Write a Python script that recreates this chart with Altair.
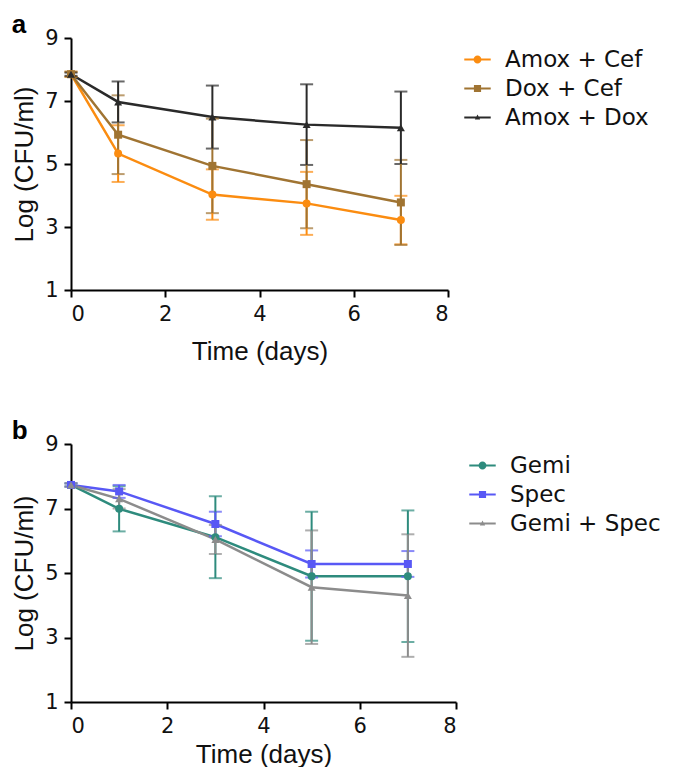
import altair as alt
import pandas as pd

times = [0, 1, 3, 5, 7]

# Panel a
a_series = ["Amox + Cef", "Dox + Cef", "Amox + Dox"]
a_mean = {
    "Amox + Cef": [7.85, 5.33, 4.03, 3.75, 3.22],
    "Dox + Cef": [7.85, 5.93, 4.94, 4.36, 3.78],
    "Amox + Dox": [7.85, 6.97, 6.49, 6.25, 6.15],
}
a_err = {
    "Amox + Cef": [0.08, 0.90, 0.80, 1.00, 0.77],
    "Dox + Cef": [0.08, 1.25, 1.50, 1.40, 1.35],
    "Amox + Dox": [0.05, 0.65, 1.00, 1.28, 1.15],
}
a_colors = ["#fb8c10", "#a07432", "#2a2a2a"]

# Panel b
b_series = ["Gemi", "Spec", "Gemi + Spec"]
b_mean = {
    "Gemi": [7.73, 6.99, 6.11, 4.90, 4.90],
    "Spec": [7.73, 7.53, 6.52, 5.28, 5.28],
    "Gemi + Spec": [7.73, 7.30, 6.04, 4.56, 4.30],
}
b_err = {
    "Gemi": [0.05, 0.70, 1.27, 2.00, 2.04],
    "Spec": [0.05, 0.20, 0.38, 0.42, 0.40],
    "Gemi + Spec": [0.05, 0.30, 0.45, 1.76, 1.90],
}
b_colors = ["#2e8b7d", "#5858f5", "#8c8c8c"]

# legend symbol paths: short line + marker
LINE = "M-1,-0.07L1,-0.07L1,0.07L-1,0.07Z"
CIRC = "M0.3,0A0.3,0.3 0 1,1 -0.3,0A0.3,0.3 0 1,1 0.3,0Z"
SQ = "M-0.27,-0.27L0.27,-0.27L0.27,0.27L-0.27,0.27Z"
TRI = "M0,-0.22L0.2,0.16L-0.2,0.16Z"
legend_paths = [LINE + CIRC, LINE + SQ, LINE + TRI]
shapes = ["circle", "square", "triangle-up"]

FONT = "Liberation Sans"
WFONT = "DejaVu Sans"


def make_df(series, mean, err):
    rows = []
    for s in series:
        for t, m, e in zip(times, mean[s], err[s]):
            rows.append({"t": t, "v": m, "lo": m - e, "hi": m + e, "s": s})
    return pd.DataFrame(rows)


def panel(series, mean, err, colors, label, w, h, lx, ly, xtpad):
    df = make_df(series, mean, err)
    base = alt.Chart(df)
    cscale = alt.Scale(domain=series, range=colors)
    x = alt.X("t:Q", scale=alt.Scale(domain=[0, 8], nice=False),
              axis=alt.Axis(values=[0, 2, 4, 6, 8], title="Time (days)",
                            titlePadding=xtpad))
    y = alt.Y("v:Q", scale=alt.Scale(domain=[1, 9], nice=False),
              axis=alt.Axis(values=[1, 3, 5, 7, 9], title="Log (CFU/ml)",
                            titlePadding=7))
    err_l = base.mark_errorbar(ticks=True, size=13, thickness=2).encode(
        x=alt.X("t:Q"),
        y=alt.Y("lo:Q", title="Log (CFU/ml)"),
        y2="hi:Q",
        color=alt.Color("s:N", scale=cscale, legend=None),
    )
    lines = base.mark_line(strokeWidth=2.5).encode(
        x=x, y=y,
        color=alt.Color("s:N", scale=cscale, legend=None),
    )
    pts = base.mark_point(filled=True, size=64, opacity=1).encode(
        x=x, y=y,
        color=alt.Color("s:N", scale=cscale, legend=None),
        shape=alt.Shape("s:N", scale=alt.Scale(domain=series, range=shapes), legend=None),
    )
    lg = alt.Legend(
        title=None, orient="none", legendX=lx, legendY=ly,
        symbolSize=700, symbolStrokeWidth=0, symbolOpacity=1,
        labelFontSize=23, labelFont=WFONT, labelColor="#111",
        rowPadding=3, labelOffset=14,
    )
    leg = base.transform_filter("false").mark_point(filled=True, opacity=1).encode(
        x=x, y=y,
        color=alt.Color("s:N", scale=alt.Scale(domain=series, range=colors), legend=lg),
        shape=alt.Shape("s:N", scale=alt.Scale(domain=series, range=legend_paths), legend=lg),
    )
    main = alt.layer(lines, err_l, pts)
    return alt.layer(main, leg).resolve_scale(
        shape="independent", color="independent"
    ).properties(
        width=w, height=h,
        title=alt.TitleParams(label, anchor="start", frame="bounds", fontSize=26,
                              fontWeight="bold", font=FONT, color="#000", offset=-11),
    )


pa = panel(a_series, a_mean, a_err, a_colors, "a", 377, 252, 393, 8, 14)
pb = panel(b_series, b_mean, b_err, b_colors, "b", 385, 258, 398, 8, 5)

chart = alt.vconcat(pa, pb, spacing=54,
                    padding={"left": 3, "top": 4, "right": 0, "bottom": 0}).resolve_scale(
    color="independent", shape="independent"
).configure_axis(
    domainColor="#000", domainWidth=2, tickColor="#000", tickWidth=2, tickSize=7,
    labelFontSize=21, labelFont=WFONT, labelColor="#111", labelPadding=6,
    titleFontSize=26, titleFont=FONT, titleColor="#111", titleFontWeight="normal",
    titlePadding=10, grid=False,
).configure_view(stroke=None)

chart.save("out.html", embed_options={"renderer": "svg", "actions": False})
